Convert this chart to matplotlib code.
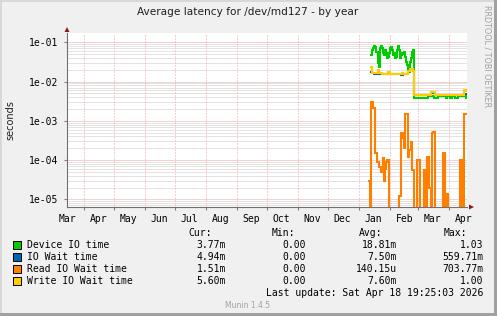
import pandas as pd
import numpy as np
import matplotlib
matplotlib.use("Agg")
import matplotlib.pyplot as plt
import matplotlib.dates as mdates
from matplotlib.ticker import LogLocator, NullFormatter
from matplotlib.patches import Rectangle, Polygon

nan = np.nan

# daily samples, one per day starting Jan 11 2026
start_day = "2026-01-11 12:00"
n_days = 98

device_io = [
    nan, nan,
    0.0475, 0.0637, 0.0703, 0.0805, 0.0772, 0.0576, 0.0576, 0.0296, 0.0239, 0.0703,
    0.0805, 0.0703, 0.0524, 0.0475, 0.0637, 0.0524, 0.0391, 0.0429, 0.0524, 0.0703,
    0.0772, 0.0637, 0.0475, 0.0524, 0.0391, 0.0429, 0.0637, 0.0805, 0.0637, 0.0391,
    0.0475, 0.0543, 0.0503, 0.0576, 0.0429, 0.0320, 0.0263, 0.0197, 0.0178, 0.0320,
    0.0391, 0.0576, 0.0637,
    3.9e-3, 3.9e-3, 3.9e-3, 3.9e-3, 3.9e-3, 3.9e-3, 3.9e-3, 3.9e-3, 3.9e-3, 3.9e-3,
    3.9e-3, 3.9e-3, 3.9e-3, 3.9e-3, 4.2e-3, 4.2e-3, 4.2e-3, 4.2e-3, 4.2e-3, 4.2e-3,
    3.9e-3, 3.9e-3, 3.9e-3, 3.9e-3, 4.2e-3, 4.2e-3, 4.2e-3, 4.2e-3, 4.2e-3, 4.2e-3,
    4.2e-3, 4.2e-3, 3.9e-3, 4.2e-3, 4.2e-3, 4.2e-3, 3.9e-3, 3.9e-3, 4.2e-3, 4.2e-3,
    4.2e-3, 3.9e-3, 3.9e-3, 3.9e-3, 4.2e-3, 4.2e-3, 4.2e-3, 4.2e-3, 4.2e-3, 4.2e-3,
    4.2e-3, 4.2e-3, 3.8e-3,
]

io_wait = [
    nan, nan,
    0.0178, 0.0162, 0.0162, 0.016, 0.016, 0.016, 0.016, 0.019, 0.016, 0.016,
    0.016, 0.016, 0.016, 0.016, 0.016, 0.016, 0.016, 0.017, 0.017, 0.016,
    0.016, 0.016, 0.016, 0.016, 0.016, 0.016, 0.016, 0.016, 0.016, 0.016,
    0.015, 0.015, 0.016, 0.016, 0.016, 0.016, 0.016, 0.0185, 0.0185, 0.0205,
    0.0205, 0.0205, 0.0185,
    4.5e-3, 4.5e-3, 4.5e-3, 4.5e-3, 4.5e-3, 4.5e-3, 4.5e-3, 4.5e-3, 4.5e-3, 4.5e-3,
    4.5e-3, 4.5e-3, 4.5e-3, 4.5e-3, 4.5e-3, 4.5e-3, 4.5e-3, 5.1e-3, 5.1e-3, 5.1e-3,
    5.1e-3, 4.5e-3, 4.5e-3, 4.5e-3, 4.5e-3, 4.5e-3, 4.5e-3, 4.5e-3, 4.5e-3, 4.5e-3,
    4.5e-3, 4.5e-3, 4.5e-3, 4.5e-3, 4.5e-3, 4.5e-3, 4.5e-3, 4.5e-3, 4.5e-3, 4.5e-3,
    4.5e-3, 4.5e-3, 4.5e-3, 4.5e-3, 4.5e-3, 4.5e-3, 4.5e-3, 4.5e-3, 4.5e-3, 4.5e-3,
    4.94e-3, 4.94e-3, 4.94e-3,
]

read_wait = [
    3.0e-5, 0, 3.0e-3, 3.0e-3, 2.1e-3, 2.1e-3, 1.5e-4, 1.5e-4, 9e-5, 9e-5,
    6.8e-5, 6.8e-5, 5e-5, 5e-5, 1.1e-4, 3e-5, 6e-5, 9e-5, 1e-4, 1e-4,
    0, 0, 0, 0, 0, 0, 0, 0, 0, 0,
    1.2e-5, 1.2e-5, 4.8e-4, 4.8e-4, 3.6e-4, 2e-4, 1.5e-3, 1.5e-3, 1.5e-3, 1.2e-4,
    1.8e-4, 1.8e-4, 2.9e-4, 5.5e-5, 5.5e-5, 0, 0, 0, 1e-4, 1e-4,
    1e-4, 0, 0, 0, 0, 5.5e-5, 5.5e-5, 0, 1.2e-4, 1.2e-4,
    1.9e-5, 1.9e-5, 0, 4.8e-4, 5.2e-4, 5.2e-4, 0, 0, 0, 0,
    0, 0, 0, 0, 1.5e-4, 1.5e-4, 0, 1.4e-5, 1.4e-5, 0,
    0, 0, 0, 0, 0, 0, 0, 0, 0, 0,
    0, 1e-4, 1e-4, 0, 0, 1.5e-3, 1.5e-3, 1.5e-3,
]

write_wait = [
    nan, nan,
    0.024, 0.0165, 0.0165, 0.0162, 0.0162, 0.0162, 0.0162, 0.0195, 0.0162, 0.0162,
    0.0162, 0.016, 0.016, 0.016, 0.016, 0.016, 0.016, 0.0172, 0.0172, 0.016,
    0.016, 0.016, 0.016, 0.016, 0.016, 0.016, 0.016, 0.016, 0.016, 0.016,
    0.016, 0.0168, 0.016, 0.016, 0.016, 0.016, 0.016, 0.019, 0.019, 0.021,
    0.021, 0.021, 0.019,
    4.6e-3, 4.6e-3, 4.6e-3, 4.6e-3, 4.6e-3, 4.6e-3, 4.6e-3, 4.6e-3, 4.6e-3, 4.6e-3,
    4.6e-3, 4.6e-3, 4.6e-3, 4.6e-3, 4.6e-3, 4.6e-3, 4.6e-3, 5.3e-3, 5.3e-3, 5.3e-3,
    5.3e-3, 4.6e-3, 4.6e-3, 4.6e-3, 4.6e-3, 4.6e-3, 4.6e-3, 4.6e-3, 4.6e-3, 4.6e-3,
    4.6e-3, 4.6e-3, 4.6e-3, 4.6e-3, 4.6e-3, 4.6e-3, 4.6e-3, 4.6e-3, 4.6e-3, 4.6e-3,
    4.6e-3, 4.6e-3, 4.6e-3, 4.6e-3, 4.6e-3, 4.6e-3, 4.6e-3, 4.6e-3, 4.6e-3, 4.6e-3,
    6.1e-3, 6.1e-3, 5.6e-3,
]

series_names = ["Device IO time", "IO Wait time", "Read IO Wait time", "Write IO Wait time"]
series_colors = ["#00CC00", "#0066B3", "#FF8000", "#FFCC00"]
cur_vals = ["3.77m", "4.94m", "1.51m", "5.60m"]
min_vals = ["0.00", "0.00", "0.00", "0.00"]
avg_vals = ["18.81m", "7.50m", "140.15u", "7.60m"]
max_vals = ["1.03", "559.71m", "703.77m", "1.00"]
y_ticks = [1e-5, 1e-4, 1e-3, 1e-2, 1e-1]
y_tick_labels = ["1e-05", "1e-04", "1e-03", "1e-02", "1e-01"]

W, H = 497, 316
def fx(x):
    return x / W
def fy(y):
    return 1 - y / H

fig = plt.figure(figsize=(W / 100, H / 100), dpi=100)
fig.patch.set_facecolor("#F0F0F0")

# 3d-ish frame
fig.add_artist(Rectangle((0, 0), fx(2), 1, transform=fig.transFigure, color="#D8D8D8", lw=0))
fig.add_artist(Rectangle((0, fy(2)), 1, 2 / H, transform=fig.transFigure, color="#D8D8D8", lw=0))
fig.add_artist(Rectangle((fx(494), 0), fx(3), 1, transform=fig.transFigure, color="#A0A0A0", lw=0))
fig.add_artist(Rectangle((0, 0), 1, 3 / H, transform=fig.transFigure, color="#A0A0A0", lw=0))

ax = fig.add_axes([fx(67), fy(207), 400 / W, 174 / H])
ax.set_facecolor("white")

dates = pd.date_range(start_day, periods=n_days, freq="D")
for vals, col in zip([device_io, io_wait, read_wait, write_wait], series_colors):
    ax.plot(dates, vals, color=col, lw=1.5, drawstyle="steps-post", solid_joinstyle="miter")

ax.set_yscale("log", nonpositive="clip")
ax.set_ylim(6.37e-6, 0.173)
ax.set_xlim(pd.Timestamp("2025-03-15 12:00"), pd.Timestamp("2026-04-19 12:00"))

# y grid
ax.set_yticks(y_ticks)
ax.set_yticklabels(y_tick_labels)
ax.yaxis.set_minor_locator(LogLocator(base=10, subs=np.arange(2, 10), numticks=20))
ax.yaxis.set_minor_formatter(NullFormatter())
ax.grid(which="major", axis="y", color="#F2A0A0", lw=0.72, ls=(0, (1, 1)))
ax.grid(which="minor", axis="y", color="#C8C8C8", lw=0.72, ls=(0, (1, 1)))

# x grid at month starts, labels mid-month
ax.xaxis.set_major_locator(mdates.MonthLocator(bymonthday=1))
ax.xaxis.set_major_formatter(NullFormatter())
ax.xaxis.set_minor_locator(mdates.MonthLocator(bymonthday=16))
ax.xaxis.set_minor_formatter(mdates.DateFormatter("%b"))
ax.grid(which="major", axis="x", color="#F2A0A0", lw=0.72, ls=(0, (1, 2)))

ax.tick_params(axis="x", which="minor", length=0, pad=5, labelsize=7)
ax.tick_params(axis="x", which="major", length=2, color="#808080")
ax.tick_params(axis="y", which="major", length=2, color="#808080", pad=4, labelsize=7)
ax.tick_params(axis="y", which="minor", length=0)
for lab in ax.get_xticklabels(minor=True) + ax.get_yticklabels():
    lab.set_fontfamily("DejaVu Sans Mono")

for s in ["top", "right"]:
    ax.spines[s].set_visible(False)
for s in ["left", "bottom"]:
    ax.spines[s].set_color("#707070")
    ax.spines[s].set_linewidth(0.8)

# axis arrows
fig.add_artist(Polygon([(fx(64.5), fy(32)), (fx(69.5), fy(32)), (fx(67), fy(27))],
                       closed=True, transform=fig.transFigure, color="#8B1A1A", lw=0))
fig.add_artist(Polygon([(fx(469), fy(204.5)), (fx(469), fy(209.5)), (fx(474), fy(207))],
                       closed=True, transform=fig.transFigure, color="#8B1A1A", lw=0))

# texts
fig.text(fx(248), fy(12), "Average latency for /dev/md127 - by year", ha="center", va="center",
         fontsize=7.6, color="#202020", family="DejaVu Sans")
fig.text(fx(10), fy(120), "seconds", rotation=90, ha="center", va="center",
         fontsize=7, color="#202020", family="DejaVu Sans")
fig.text(fx(487), fy(5), "RRDTOOL / TOBI OETIKER", rotation=270, ha="center", va="top",
         fontsize=5.8, color="#A0A0A0", family="DejaVu Sans")

mono = "DejaVu Sans Mono"
fs = 7
fig.text(fx(212), fy(233), "Cur:", ha="right", va="center", fontsize=fs, family=mono)
fig.text(fx(295), fy(233), "Min:", ha="right", va="center", fontsize=fs, family=mono)
fig.text(fx(382), fy(233), "Avg:", ha="right", va="center", fontsize=fs, family=mono)
fig.text(fx(467), fy(233), "Max:", ha="right", va="center", fontsize=fs, family=mono)

for i, name in enumerate(series_names):
    yc = 245 + 12 * i
    fig.add_artist(Rectangle((fx(13), fy(yc + 4)), 8 / W, 8 / H, transform=fig.transFigure,
                             facecolor=series_colors[i], edgecolor="black", lw=0.7))
    fig.text(fx(27), fy(yc), name, ha="left", va="center", fontsize=fs, family=mono)
    fig.text(fx(226), fy(yc), cur_vals[i], ha="right", va="center", fontsize=fs, family=mono)
    fig.text(fx(306), fy(yc), min_vals[i], ha="right", va="center", fontsize=fs, family=mono)
    fig.text(fx(397), fy(yc), avg_vals[i], ha="right", va="center", fontsize=fs, family=mono)
    fig.text(fx(483), fy(yc), max_vals[i], ha="right", va="center", fontsize=fs, family=mono)

fig.text(fx(483), fy(293), "Last update: Sat Apr 18 19:25:03 2026", ha="right", va="center",
         fontsize=fs, family=mono)
fig.text(fx(248), fy(305.5), "Munin 1.4.5", ha="center", va="center", fontsize=5.5,
         color="#A0A0A0", family="DejaVu Sans")

fig.savefig("out.png", dpi=100, facecolor=fig.get_facecolor())
